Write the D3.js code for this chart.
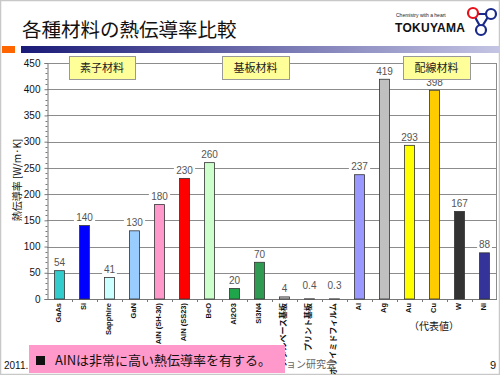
<!DOCTYPE html>
<html>
<head>
<meta charset="utf-8">
<script src="https://cdn.jsdelivr.net/npm/d3@7"></script>
<style>
  body { margin: 0; background: #fff; }
  svg { display: block; }
</style>
</head>
<body>
<div id="chart"></div>
<script>
// data
const categories = ["GaAs", "Si", "Sapphire", "GaN", "AlN (SH-30)", "AlN (SS23)", "BeO", "Al2O3", "Si3N4",
    "メタルベース基板", "プリント基板", "ポリイミドフィルム", "Al", "Ag", "Au", "Cu", "W", "Ni"];
const values = [54, 140, 41, 130, 180, 230, 260, 20, 70, 4, 0.4, 0.3, 237, 419, 293, 398, 167, 88];
const barColors = ["#33cccc", "#0000ff", "#ccffff", "#99ccff", "#ff99cc", "#ff0000", "#ccffcc", "#1fa64a", "#2e9a52",
    "#c0c0c0", "#c0c0c0", "#c0c0c0", "#9999ff", "#c0c0c0", "#ffff00", "#ffcc00", "#333333", "#333399"];
const yTicks = [0, 50, 100, 150, 200, 250, 300, 350, 400, 450];
const groupLabels = ["素子材料", "基板材料", "配線材料"];

const W = 500, H = 375;
const svg = d3.select("#chart").append("svg")
    .attr("width", W)
    .attr("height", H);

const jp = "'Noto Sans CJK JP', 'Noto Sans', sans-serif";
const latin = "'Liberation Sans', Arial, sans-serif";

// page frame
svg.append("rect").attr("x", 0.5).attr("y", 0.5).attr("width", W - 1).attr("height", H - 1)
    .attr("fill", "#fff").attr("stroke", "#c8c8c8").attr("stroke-width", 1.5);

// title
svg.append("text")
    .attr("x", 22).attr("y", 37)
    .attr("font-family", jp).attr("font-size", 19.5).attr("fill", "#111")
    .text("各種材料の熱伝導率比較");

// header bar
const grad = svg.append("defs").append("linearGradient").attr("id", "hdr");
grad.append("stop").attr("offset", "0%").attr("stop-color", "#1a1a78");
grad.append("stop").attr("offset", "100%").attr("stop-color", "#c4c4e4");
svg.append("rect").attr("x", 2).attr("y", 46).attr("width", 13).attr("height", 7).attr("fill", "#ff6600");
svg.append("rect").attr("x", 21).attr("y", 46).attr("width", 478).attr("height", 7).attr("fill", "url(#hdr)");

// logo
const logo = svg.append("g");
logo.append("text").attr("x", 396).attr("y", 17)
    .attr("font-family", latin).attr("font-size", 5).attr("fill", "#222")
    .text("Chemistry with a heart");
logo.append("text").attr("x", 395).attr("y", 32)
    .attr("font-family", latin).attr("font-size", 12).attr("font-weight", "bold").attr("fill", "#111")
    .attr("textLength", 70)
    .text("TOKUYAMA");
logo.append("path").attr("d", "M475,17 L481,28 L488,17 M476,14 L487,14")
    .attr("stroke", "#1a2a8a").attr("stroke-width", 2.2).attr("fill", "none");
logo.append("circle").attr("cx", 473).attr("cy", 13).attr("r", 5)
    .attr("fill", "#fff").attr("stroke", "#e8101a").attr("stroke-width", 2.2);
logo.append("circle").attr("cx", 491).attr("cy", 14).attr("r", 5)
    .attr("fill", "#fff").attr("stroke", "#1a2a8a").attr("stroke-width", 2.2);
logo.append("circle").attr("cx", 481).attr("cy", 30).attr("r", 5)
    .attr("fill", "#fff").attr("stroke", "#1a2a8a").attr("stroke-width", 2.2);

// chart area
const margin = { top: 63, right: 3, bottom: 76, left: 47 };
const width = W - margin.left - margin.right;
const height = H - margin.top - margin.bottom;
const g = svg.append("g").attr("transform", `translate(${margin.left},${margin.top})`);

const x = d3.scaleBand().domain(categories).range([0, width]).paddingInner(0.6).paddingOuter(0.3);
const y = d3.scaleLinear().domain([0, 450]).range([height, 0]);

// gridlines
g.append("g")
    .selectAll("line")
    .data(yTicks.filter(t => t > 0))
    .enter().append("line")
    .attr("x1", 0).attr("x2", width)
    .attr("y1", d => Math.round(y(d)) + 0.5).attr("y2", d => Math.round(y(d)) + 0.5)
    .attr("stroke", "#8c8c8c").attr("stroke-width", 1);
g.append("line").attr("x1", width - 0.5).attr("x2", width - 0.5).attr("y1", 0).attr("y2", height)
    .attr("stroke", "#8c8c8c");

// y axis
const yAxis = g.append("g")
    .attr("transform", "translate(0.5,0)")
    .call(d3.axisLeft(y).tickValues(yTicks).tickSize(3).tickPadding(4));
yAxis.select(".domain").attr("stroke", "#777");
yAxis.selectAll(".tick line").attr("stroke", "#777");
yAxis.selectAll("text").attr("font-family", latin).attr("font-size", 10).attr("fill", "#111");
// minor ticks
g.append("g")
    .selectAll("line")
    .data(d3.range(0, 451, 10).filter(v => v % 50 !== 0))
    .enter().append("line")
    .attr("x1", -1.5).attr("x2", 0.5)
    .attr("y1", d => Math.round(y(d)) + 0.5).attr("y2", d => Math.round(y(d)) + 0.5)
    .attr("stroke", "#777");

// x axis, ticks between categories
const gap = x.step() * x.paddingInner() / 2;
g.append("line").attr("x1", 0).attr("x2", width)
    .attr("y1", height + 0.5).attr("y2", height + 0.5).attr("stroke", "#777");
g.append("g")
    .selectAll("line")
    .data(categories.slice(1))
    .enter().append("line")
    .attr("x1", d => Math.round(x(d) - gap) + 0.5)
    .attr("x2", d => Math.round(x(d) - gap) + 0.5)
    .attr("y1", height).attr("y2", height + 3)
    .attr("stroke", "#777");

// bars
g.selectAll(".bar")
    .data(values)
    .enter().append("rect")
    .attr("class", "bar")
    .attr("x", (d, i) => x(categories[i]))
    .attr("y", d => y(d))
    .attr("width", x.bandwidth())
    .attr("height", d => height - y(d))
    .attr("fill", (d, i) => barColors[i])
    .attr("stroke", "#333")
    .attr("stroke-width", 0.8);

// category labels
g.append("g")
    .selectAll("text")
    .data(categories)
    .enter().append("text")
    .attr("transform", d => `translate(${x(d) + x.bandwidth() / 2 - 1},${height + 4}) rotate(-90)`)
    .attr("text-anchor", "end")
    .attr("dy", "0.35em")
    .attr("font-family", d => /[^\x00-\x7f]/.test(d) ? jp : latin)
    .attr("font-size", d => /[^\x00-\x7f]/.test(d) ? 8 : 7.5)
    .attr("font-weight", "bold")
    .attr("fill", "#111")
    .text(d => d);

g.append("text")
    .attr("x", (x("Au") + x("Cu")) / 2 + x.bandwidth() / 2 + 12)
    .attr("y", height + 31)
    .attr("text-anchor", "middle")
    .attr("font-family", jp).attr("font-size", 10).attr("fill", "#111")
    .text("（代表値）");

// y label
svg.append("text")
    .attr("transform", "translate(17,180) rotate(-90)")
    .attr("text-anchor", "middle")
    .attr("dy", "0.35em")
    .attr("font-family", jp).attr("font-size", 10).attr("fill", "#111")
    .text("熱伝導率 [W/m·K]");

// group boxes
const boxes = [
    { x0: 69, x1: 135 },
    { x0: 222, x1: 289 },
    { x0: 403, x1: 470 }
];
const gb = svg.append("g");
boxes.forEach((b, i) => {
    gb.append("rect")
        .attr("x", b.x0 + 0.5).attr("y", 56.5).attr("width", b.x1 - b.x0).attr("height", 23)
        .attr("fill", "#ffff99").attr("stroke", "#999").attr("stroke-width", 1);
    gb.append("text")
        .attr("x", (b.x0 + b.x1) / 2).attr("y", 72)
        .attr("text-anchor", "middle")
        .attr("font-family", jp).attr("font-size", 11).attr("fill", "#222")
        .text(groupLabels[i]);
});

// value labels
const vl = g.append("g");
values.forEach((v, i) => {
    const cx = x(categories[i]) + x.bandwidth() / 2;
    const cy = y(v) - 4.5 - (v < 1 ? 5 : 0);
    const t = String(v);
    vl.append("rect")
        .attr("x", cx - t.length * 3.2 - 1).attr("y", cy - 8)
        .attr("width", t.length * 6.4 + 2).attr("height", 9)
        .attr("fill", "#fff");
    vl.append("text")
        .attr("x", cx).attr("y", cy)
        .attr("text-anchor", "middle")
        .attr("font-family", latin).attr("font-size", 10).attr("fill", "#555")
        .text(t);
});

// footer
svg.append("text").attr("x", 4).attr("y", 369)
    .attr("font-family", latin).attr("font-size", 10).attr("fill", "#111").text("2011.");
svg.append("text").attr("x", 286).attr("y", 368)
    .attr("font-family", jp).attr("font-size", 10).attr("fill", "#666").text("ョン研究会");
svg.append("text").attr("x", 490).attr("y", 369)
    .attr("font-family", latin).attr("font-size", 11).attr("fill", "#111").text("9");
svg.append("rect").attr("x", 29).attr("y", 345).attr("width", 256).attr("height", 28).attr("fill", "#ff99cc");
svg.append("rect").attr("x", 36).attr("y", 356).attr("width", 9).attr("height", 9).attr("fill", "#111");
svg.append("text").attr("x", 55).attr("y", 365)
    .attr("font-family", jp).attr("font-size", 13).attr("fill", "#111")
    .text("AINは非常に高い熱伝導率を有する。");
</script>
</body>
</html>
